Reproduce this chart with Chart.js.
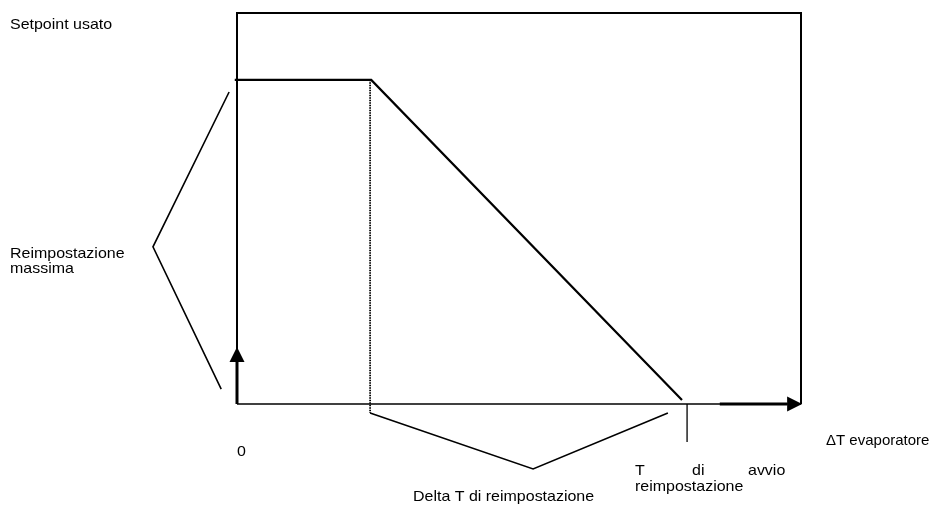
<!DOCTYPE html>
<html>
<head>
<meta charset="utf-8">
<script src="https://cdn.jsdelivr.net/npm/chart.js@4"></script>
<style>
  html, body { margin: 0; padding: 0; background: #fff; }
  #wrap { width: 934px; height: 507px; }
</style>
</head>
<body>
<div id="wrap"><canvas id="chart" width="934" height="507"></canvas></div>
<script>
// Setpoint used vs evaporator delta T (axis units 0..100 on both scales)
const setpointX = [-0.4, 23.8, 78.9];
const setpointY = [82.9, 82.9, 1.0];

// dotted marker at the end of the flat part
const markerX = [23.6, 23.6];
const markerY = [82.9, -2.3];

// brace for "Reimpostazione massima"
const maxResetX = [-1.4, -14.9, -2.8];
const maxResetY = [79.8, 40.2, 3.8];

// brace for "Delta T di reimpostazione"
const deltaResetX = [23.6, 52.5, 76.4];
const deltaResetY = [-2.3, -16.6, -2.3];

// tick at "T di avvio reimpostazione"
const startTickX = [79.8, 79.8];
const startTickY = [0, -9.7];

// axis arrows: [fromX, fromY, toX, toY]
const axisArrows = [
    [0, 0, 0, 14.6],
    [85.6, 0, 100.2, 0]
];

function pts(xs, ys) {
    return xs.map((x, i) => ({ x: x, y: ys[i] }));
}

const FONT = '15px "Liberation Sans", Arial, sans-serif';
const STRETCH = 1.065; // the original text is a little wider than Arial

function text(ctx, str, x, y, stretch = STRETCH) {
    ctx.save();
    ctx.translate(x, y);
    ctx.scale(stretch, 1);
    ctx.fillText(str, 0, 0);
    ctx.restore();
}

// Frame, arrows and text
const diagramPlugin = {
    id: 'diagram',
    afterDatasetsDraw(chart) {
        const { ctx, chartArea: a, scales } = chart;
        const sx = scales.x, sy = scales.y;
        ctx.save();

        // frame
        ctx.strokeStyle = '#000';
        ctx.lineWidth = 2;
        ctx.beginPath();
        ctx.moveTo(a.left, a.bottom);
        ctx.lineTo(a.left, a.top);
        ctx.lineTo(a.right, a.top);
        ctx.lineTo(a.right, a.bottom);
        ctx.stroke();
        ctx.lineWidth = 1.5;
        ctx.beginPath();
        ctx.moveTo(a.left, a.bottom);
        ctx.lineTo(a.right, a.bottom);
        ctx.stroke();

        // arrows
        ctx.fillStyle = '#000';
        axisArrows.forEach(([x0, y0, x1, y1]) => {
            const px0 = sx.getPixelForValue(x0), py0 = sy.getPixelForValue(y0);
            const px1 = sx.getPixelForValue(x1), py1 = sy.getPixelForValue(y1);
            const ang = Math.atan2(py1 - py0, px1 - px0);
            const len = 15, half = 7.5;
            const bx = px1 - Math.cos(ang) * len, by = py1 - Math.sin(ang) * len;
            ctx.lineWidth = 3;
            ctx.beginPath();
            ctx.moveTo(px0, py0);
            ctx.lineTo(bx, by);
            ctx.stroke();
            ctx.beginPath();
            ctx.moveTo(px1, py1);
            ctx.lineTo(bx - Math.sin(ang) * half, by + Math.cos(ang) * half);
            ctx.lineTo(bx + Math.sin(ang) * half, by - Math.cos(ang) * half);
            ctx.closePath();
            ctx.fill();
        });

        // texts
        ctx.font = FONT;
        ctx.fillStyle = '#000';
        ctx.textBaseline = 'alphabetic';
        ctx.textAlign = 'left';
        text(ctx, 'Setpoint usato', 10, 29);
        text(ctx, 'Reimpostazione', 10, 258);
        text(ctx, 'massima', 10, 273);
        text(ctx, '0', a.left, 456);
        text(ctx, 'Delta T di reimpostazione', 413, 501);
        text(ctx, 'T', 635, 475);
        text(ctx, 'di', 692, 475);
        text(ctx, 'avvio', 748, 475);
        text(ctx, 'reimpostazione', 635, 491);
        text(ctx, '\u0394T evaporatore', 826, 445, 1);

        ctx.restore();
    }
};

const lineDefaults = {
    showLine: true,
    pointRadius: 0,
    borderColor: '#000',
    fill: false,
    clip: false,
    tension: 0
};

new Chart(document.getElementById('chart'), {
    type: 'scatter',
    data: {
        datasets: [
            { ...lineDefaults, label: 'Setpoint', data: pts(setpointX, setpointY), borderWidth: 2.2 },
            { ...lineDefaults, label: 'marker', data: pts(markerX, markerY), borderWidth: 1.8, borderDash: [1.5, 1] },
            { ...lineDefaults, label: 'max reset', data: pts(maxResetX, maxResetY), borderWidth: 1.6 },
            { ...lineDefaults, label: 'delta reset', data: pts(deltaResetX, deltaResetY), borderWidth: 1.6 },
            { ...lineDefaults, label: 'start', data: pts(startTickX, startTickY), borderWidth: 1.3 }
        ]
    },
    options: {
        responsive: false,
        devicePixelRatio: 1,
        animation: false,
        layout: { padding: { left: 237, right: 133, top: 13, bottom: 103 } },
        plugins: { legend: { display: false }, tooltip: { enabled: false }, title: { display: false } },
        scales: {
            x: { type: 'linear', min: 0, max: 100, display: false },
            y: { type: 'linear', min: 0, max: 100, display: false }
        }
    },
    plugins: [diagramPlugin]
});
</script>
</body>
</html>
